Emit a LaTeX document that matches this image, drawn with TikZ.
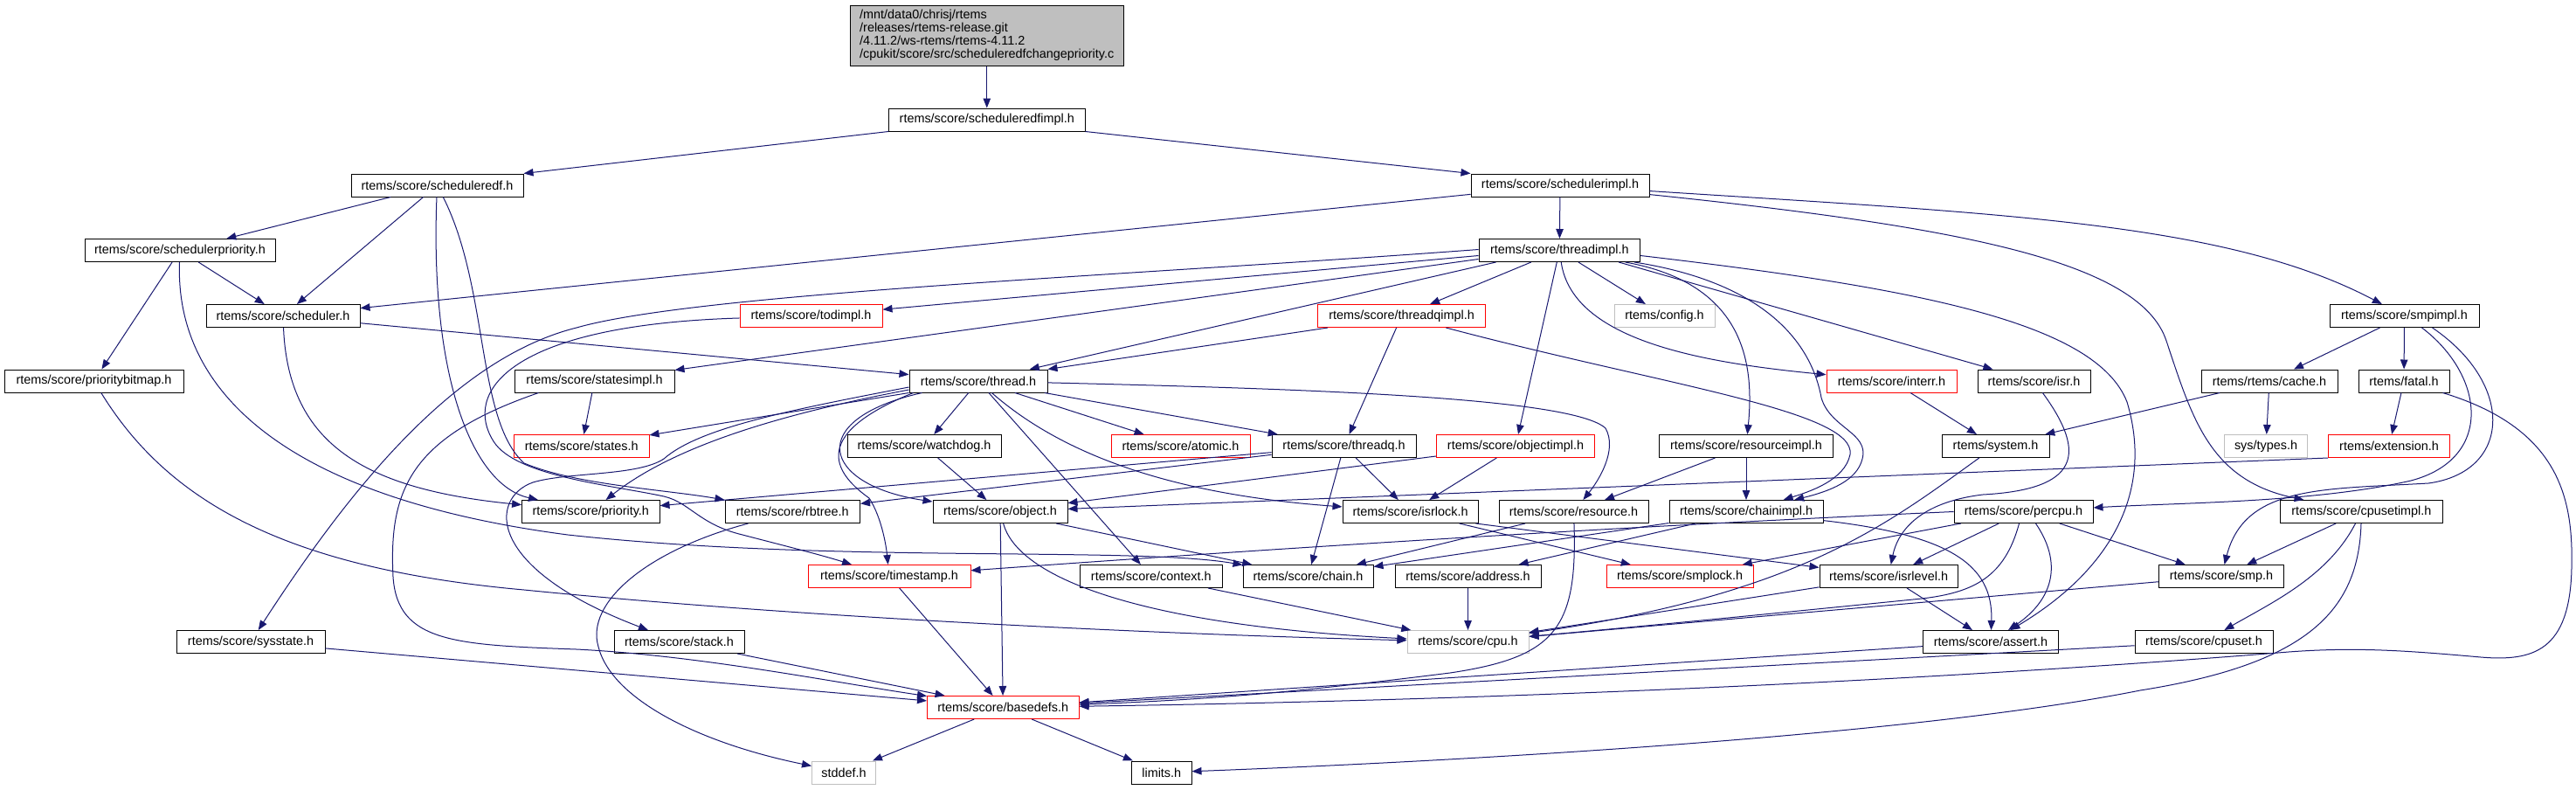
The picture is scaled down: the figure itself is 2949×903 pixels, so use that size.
\documentclass[tikz,border=0pt]{standalone}
\usepackage{fontspec}
\setmainfont{Liberation Sans}
\usetikzlibrary{arrows.meta}
\definecolor{edgec}{HTML}{191970}
\definecolor{grayb}{HTML}{BFBFBF}
\begin{document}
\begin{tikzpicture}[x=1pt,y=-1pt,
  box/.style={draw=black, line width=1pt, fill=white, minimum height=26pt, inner sep=0pt, font=\fontsize{14.4}{15}\selectfont},
  boxr/.style={box, draw=red},
  boxg/.style={box, draw=grayb},
  edge/.style={draw=edgec, line width=1pt, -{Triangle[length=11pt,width=8.5pt]}},
]
\useasboundingbox (0,0) rectangle (2949,903);
% nodes
\node[box, fill=grayb, minimum width=312.5pt, minimum height=69pt, align=left] (top) at (1129.75,40.5) {/mnt/data0/chrisj/rtems\\/releases/rtems-release.git\\/4.11.2/ws-rtems/rtems-4.11.2\\/cpukit/score/src/scheduleredfchangepriority.c};
\node[box, minimum width=224.5pt] (sedfimpl) at (1129.75,137) {rtems/score/scheduleredfimpl.h};
\node[box, minimum width=197pt] (sedf) at (500.5,212) {rtems/score/scheduleredf.h};
\node[box, minimum width=204pt] (simpl) at (1786,212) {rtems/score/schedulerimpl.h};
\node[box, minimum width=218pt] (sprio) at (206,286.5) {rtems/score/schedulerpriority.h};
\node[box, minimum width=184.6pt] (timpl) at (1785.3,286.5) {rtems/score/threadimpl.h};
\node[box, minimum width=176pt] (sched) at (324,361.5) {rtems/score/scheduler.h};
\node[boxr, minimum width=163pt] (todimpl) at (928.5,361.5) {rtems/score/todimpl.h};
\node[boxr, minimum width=192pt] (tqimpl) at (1604.6,361.5) {rtems/score/threadqimpl.h};
\node[boxg, minimum width=115pt] (config) at (1905.5,361.5) {rtems/config.h};
\node[box, minimum width=171pt] (smpimpl) at (2752.5,361.5) {rtems/score/smpimpl.h};
\node[box, minimum width=205pt] (pbm) at (107.5,436) {rtems/score/prioritybitmap.h};
\node[box, minimum width=183pt] (stimpl) at (680.5,436) {rtems/score/statesimpl.h};
\node[box, minimum width=158pt] (thread) at (1120,436) {rtems/score/thread.h};
\node[boxr, minimum width=149pt] (interr) at (2165.5,436) {rtems/score/interr.h};
\node[box, minimum width=129pt] (isr) at (2328.5,436) {rtems/score/isr.h};
\node[box, minimum width=156pt] (cache) at (2598,436) {rtems/rtems/cache.h};
\node[box, minimum width=104pt] (fatal) at (2752,436) {rtems/fatal.h};
\node[boxr, minimum width=154.5pt] (states) at (665.75,510.5) {rtems/score/states.h};
\node[box, minimum width=176pt] (wdog) at (1058,510.5) {rtems/score/watchdog.h};
\node[boxr, minimum width=159pt] (atomic) at (1351.5,510.5) {rtems/score/atomic.h};
\node[box, minimum width=165pt] (tq) at (1538.5,510.5) {rtems/score/threadq.h};
\node[boxr, minimum width=181pt] (objimpl) at (1735,510.5) {rtems/score/objectimpl.h};
\node[box, minimum width=199pt] (resimpl) at (1999,510.5) {rtems/score/resourceimpl.h};
\node[box, minimum width=123pt] (system) at (2284.5,510.5) {rtems/system.h};
\node[boxg, minimum width=94.5pt] (systypes) at (2594,510.5) {sys/types.h};
\node[boxr, minimum width=139pt] (ext) at (2735,510.5) {rtems/extension.h};
\node[box, minimum width=157.4pt] (prio) at (676.3,585.5) {rtems/score/priority.h};
\node[box, minimum width=154.5pt] (rbtree) at (907.25,585.5) {rtems/score/rbtree.h};
\node[box, minimum width=154pt] (object) at (1145,585.5) {rtems/score/object.h};
\node[box, minimum width=155pt] (isrlock) at (1614.5,585.5) {rtems/score/isrlock.h};
\node[box, minimum width=171pt] (resource) at (1801.5,585.5) {rtems/score/resource.h};
\node[box, minimum width=176pt] (chimpl) at (1999,585.5) {rtems/score/chainimpl.h};
\node[box, minimum width=159pt] (percpu) at (2316.5,585.5) {rtems/score/percpu.h};
\node[box, minimum width=185.3pt] (csimpl) at (2703.4,585.5) {rtems/score/cpusetimpl.h};
\node[boxr, minimum width=186pt] (tstamp) at (1018,659.5) {rtems/score/timestamp.h};
\node[box, minimum width=162.4pt] (context) at (1317.8,659.5) {rtems/score/context.h};
\node[box, minimum width=149pt] (chain) at (1497.5,659.5) {rtems/score/chain.h};
\node[box, minimum width=167pt] (address) at (1680.5,659.5) {rtems/score/address.h};
\node[boxr, minimum width=168pt] (smplock) at (1923,659.5) {rtems/score/smplock.h};
\node[box, minimum width=158pt] (isrlevel) at (2162,659.5) {rtems/score/isrlevel.h};
\node[box, minimum width=143pt] (smp) at (2543,659.5) {rtems/score/smp.h};
\node[box, minimum width=170pt] (sysstate) at (287,734.5) {rtems/score/sysstate.h};
\node[box, minimum width=149pt] (stack) at (777.5,734.5) {rtems/score/stack.h};
\node[boxg, minimum width=139pt] (cpu) at (1680.5,734.5) {rtems/score/cpu.h};
\node[box, minimum width=155pt] (assert) at (2279,734.5) {rtems/score/assert.h};
\node[box, minimum width=158pt] (cpuset) at (2523,734.5) {rtems/score/cpuset.h};
\node[boxr, minimum width=173.5pt] (basedefs) at (1148.25,809.5) {rtems/score/basedefs.h};
\node[boxg, minimum width=73pt] (stddef) at (966,884) {stddef.h};
\node[box, minimum width=68.5pt] (limits) at (1329.75,884) {limits.h};
% edges
\draw[edge] (top) -- (sedfimpl);
\draw[edge] (sedfimpl.south west) -- (sedf.north east);
\draw[edge] (sedfimpl.south east) -- (simpl.north west);
\draw[edge] (sedf) -- (sprio);
\draw[edge] (sedf) -- (sched);
\draw[edge] (sedf) .. controls (492,430) and (540,555) .. (prio);
\draw[edge] (sedf) .. controls (560,330) and (545,480) .. (600,530) .. controls (660,555) and (760,560) .. (rbtree);
\draw[edge] (sprio) -- (pbm);
\draw[edge] (sprio) -- (sched);
\draw[edge] (sprio) .. controls (200,450) and (330,570) .. (650,612) .. controls (950,645) and (1300,625) .. (chain);
\draw[edge] (simpl) -- (sched);
\draw[edge] (simpl) -- (timpl);
\draw[edge] (simpl) .. controls (2250,260) and (2450,300) .. (2480,390) .. controls (2510,480) and (2530,550) .. (csimpl);
\draw[edge] (simpl) .. controls (2300,245) and (2550,255) .. (smpimpl);
\draw[edge] (sched) -- (thread);
\draw[edge] (sched) .. controls (330,510) and (420,560) .. (prio);
\draw[edge] (pbm) .. controls (190,570) and (320,650) .. (600,675) .. controls (900,705) and (1300,725) .. (cpu);
% threadimpl
\draw[edge] ([xshift=20pt]timpl.south west) -- (thread);
\draw[edge] ([yshift=-6pt]timpl.west) -- (todimpl);
\draw[edge] (timpl) -- (tqimpl);
\draw[edge] (timpl) -- (config);
\draw[edge] ([yshift=-10pt]timpl.west) -- (stimpl);
\draw[edge] ([yshift=1pt]timpl.west) .. controls (1300,315) and (800,335) .. (660,375) .. controls (520,410) and (400,560) .. (sysstate);
\draw[edge] (timpl) -- (objimpl);
\draw[edge] (timpl) .. controls (2000,325) and (2008,420) .. (resimpl);
\draw[edge] (timpl) .. controls (2030,325) and (2075,400) .. (2085,455) .. controls (2095,490) and (2140,495) .. (2132,525) .. controls (2126,550) and (2095,562) .. (chimpl);
\draw[edge] (timpl) .. controls (1800,390) and (1950,415) .. (interr);
\draw[edge] ([xshift=-25pt]timpl.south east) -- (isr);
\draw[edge] ([yshift=-6pt]timpl.east) .. controls (2200,330) and (2400,370) .. (2435,460) .. controls (2465,560) and (2420,650) .. (assert);
% threadqimpl
\draw[edge] ([xshift=12pt]tqimpl.south west) -- (thread.north east);
\draw[edge] (tqimpl) -- (tq);
\draw[edge] (tqimpl) .. controls (1900,440) and (2125,470) .. (2118,520) .. controls (2112,550) and (2070,563) .. (chimpl);
% todimpl
\draw[edge] (todimpl) .. controls (580,372) and (530,450) .. (565,505) .. controls (590,545) and (700,555) .. (760,568) .. controls (790,575) and (800,600) .. (850,612) .. controls (900,625) and (940,635) .. (tstamp);
% statesimpl
\draw[edge] (stimpl) -- (states);
\draw[edge] ([xshift=28pt]stimpl.south west) .. controls (470,500) and (445,560) .. (450,660) .. controls (455,735) and (520,738) .. (660,743) .. controls (800,750) and (950,780) .. (basedefs);
% thread
\draw[edge] (thread.south west) -- (states);
\draw[edge] ([yshift=-10pt]thread.west) .. controls (860,480) and (760,520) .. (prio);
\draw[edge] ([yshift=-7pt]thread.west) .. controls (900,470) and (800,490) .. (760,525) .. controls (730,545) and (650,540) .. (610,552) .. controls (560,570) and (555,650) .. (stack);
\draw[edge] (thread) -- (wdog);
\draw[edge] (thread) -- (atomic);
\draw[edge] (thread) -- (tq);
\draw[edge] ([xshift=15pt]thread.south west) .. controls (920,480) and (940,555) .. (object);
\draw[edge] ([xshift=5pt]thread.south west) .. controls (920,500) and (960,545) .. (995,570) .. controls (1008,590) and (1014,620) .. (tstamp);
\draw[edge] (thread) -- (context);
\draw[edge] (thread) .. controls (1210,515) and (1330,565) .. (isrlock);
\draw[edge] (thread) .. controls (1500,445) and (1800,455) .. (1838,490) .. controls (1852,515) and (1830,550) .. (resource);
% threadq
\draw[edge] (tq) -- (prio);
\draw[edge] (tq) -- (rbtree);
\draw[edge] (tq) -- (chain);
\draw[edge] (tq) -- (isrlock);
% watchdog, object
\draw[edge] (wdog) -- (object);
\draw[edge] (object) -- (basedefs);
\draw[edge] (object) .. controls (1165,660) and (1300,715) .. (cpu);
\draw[edge] (object) -- (chain);
% objectimpl, resourceimpl
\draw[edge] (objimpl) -- (isrlock);
\draw[edge] (objimpl) -- (object);
\draw[edge] (resimpl) -- (resource);
\draw[edge] (resimpl) -- (chimpl);
% isrlock, resource, chainimpl
\draw[edge] (isrlock) -- (smplock);
\draw[edge] ([xshift=-3pt]isrlock.south east) -- (isrlevel);
\draw[edge] (resource) -- (chain);
\draw[edge] (resource) .. controls (1806,720) and (1780,752) .. (1660,770) .. controls (1500,790) and (1400,800) .. (basedefs);
\draw[edge] (chimpl) -- (chain);
\draw[edge] (chimpl) -- (address);
\draw[edge] (chimpl) .. controls (2230,612) and (2282,645) .. (assert);
% isrlevel, percpu
\draw[edge] (isrlevel) -- (assert);
\draw[edge] (isrlevel) -- (cpu);
\draw[edge] (percpu) -- (isrlevel);
\draw[edge] ([xshift=-5pt]percpu.south) .. controls (2295,660) and (2260,678) .. (2200,685) .. controls (2050,700) and (1900,715) .. (cpu);
\draw[edge] ([xshift=14pt]percpu.south) .. controls (2365,650) and (2345,690) .. (assert);
\draw[edge] (percpu) -- (smp);
\draw[edge] (percpu) -- (smplock);
\draw[edge] (percpu.west) .. controls (1800,605) and (1400,632) .. (tstamp);
% isr, system, smp, address, context
\draw[edge] (isr) .. controls (2390,520) and (2380,560) .. (2270,566) .. controls (2195,575) and (2172,610) .. (isrlevel);
\draw[edge] (system) .. controls (2160,600) and (2060,680) .. (cpu);
\draw[edge] (smp) -- (cpu);
\draw[edge] (address) -- (cpu);
\draw[edge] (context) -- (cpu);
% to basedefs
\draw[edge] (tstamp) -- (basedefs);
\draw[edge] (stack) -- (basedefs);
\draw[edge] (sysstate) -- (basedefs);
\draw[edge] (basedefs) -- (stddef);
\draw[edge] (basedefs) -- (limits);
\draw[edge] (assert) -- (basedefs);
\draw[edge] (cpuset) -- (basedefs);
\draw[edge] (rbtree) .. controls (740,630) and (670,690) .. (685,740) .. controls (700,800) and (800,850) .. (stddef);
\draw[edge] (fatal) .. controls (2930,490) and (2946,570) .. (2944,650) .. controls (2942,745) and (2900,757) .. (2840,752) .. controls (2760,745) and (2700,740) .. (2620,746) .. controls (2300,772) and (1800,800) .. (basedefs);
% cpusetimpl
\draw[edge] (csimpl) -- (smp);
\draw[edge] (csimpl) .. controls (2665,660) and (2600,690) .. (cpuset);
\draw[edge] (csimpl) .. controls (2700,700) and (2640,760) .. (2450,790) .. controls (2200,840) and (1700,870) .. (limits);
% right part
\draw[edge] (cache) -- (system);
\draw[edge] (cache) -- (systypes);
\draw[edge] (fatal) -- (ext);
\draw[edge] (ext.south west) -- (object);
\draw[edge] (interr) -- (system);
\draw[edge] (smpimpl) -- (cache);
\draw[edge] (smpimpl) -- (fatal);
\draw[edge] ([xshift=20pt]smpimpl.south) .. controls (2845,430) and (2855,525) .. (2760,550) .. controls (2650,575) and (2500,575) .. (percpu);
\draw[edge] ([xshift=32pt]smpimpl.south) .. controls (2880,440) and (2875,540) .. (2780,553) .. controls (2660,560) and (2570,555) .. (smp);
\end{tikzpicture}
\end{document}
